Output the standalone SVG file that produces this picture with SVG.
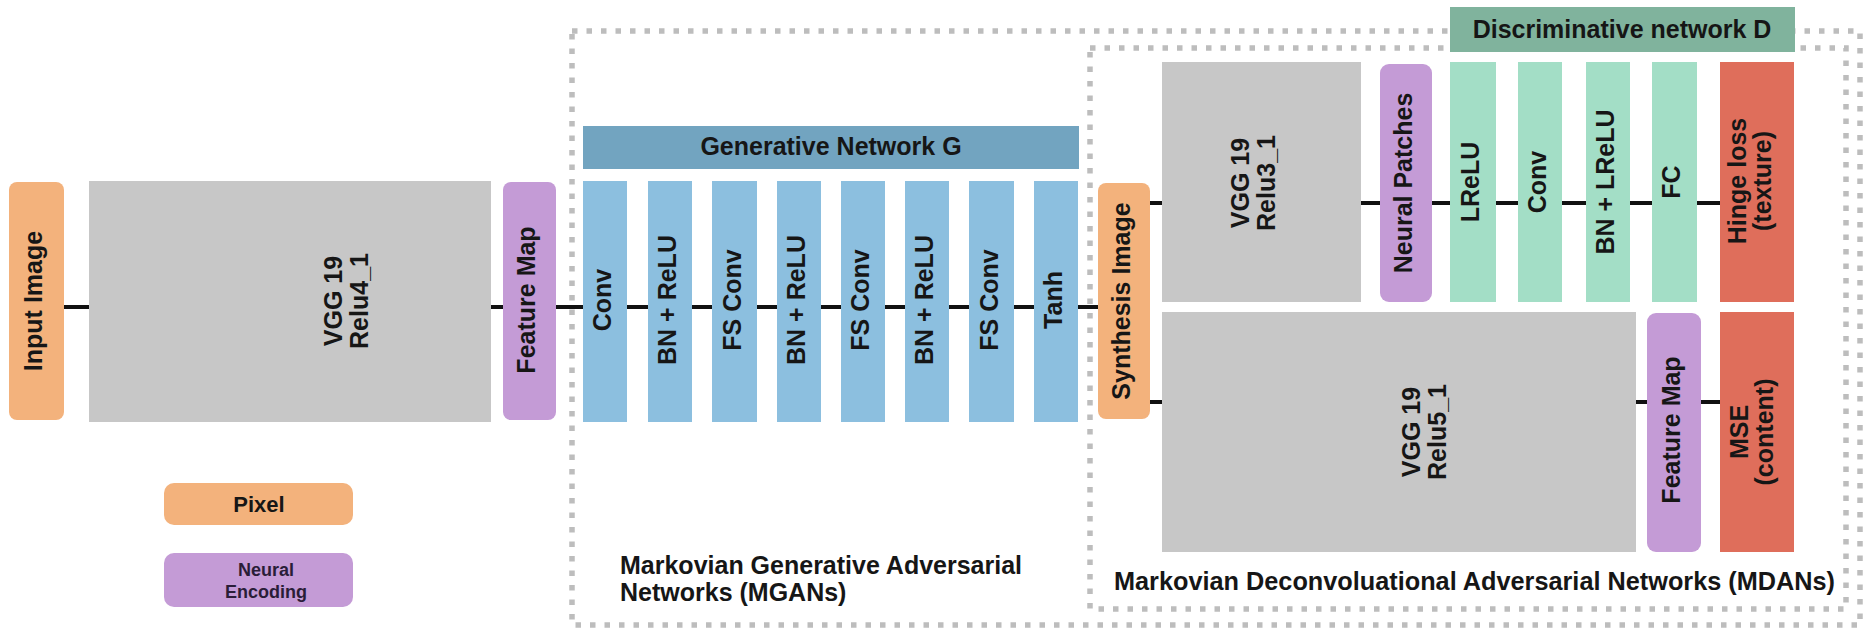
<svg xmlns="http://www.w3.org/2000/svg" width="1864" height="629" viewBox="0 0 1864 629">
<style>
text{font-family:"Liberation Sans",Arial,Helvetica,sans-serif;font-weight:bold;font-size:25px;fill:#161616;text-anchor:middle}
.pix{fill:#f3b27c}
.enc{fill:#c49bd6}
.vgg{fill:#c7c7c7}
.gen{fill:#8cbfdf}
.genh{fill:#72a4c0}
.dis{fill:#a3dec6}
.dish{fill:#80b39d}
.loss{fill:#df6e5b}
.frame{fill:none;stroke:#bdbdbd;stroke-width:5.5;stroke-dasharray:5.5 9}
.conn line{stroke:#111;stroke-width:4}
.lbl{text-anchor:start}
.leg{font-size:18px;fill:#2a1d38}
</style>
<g id="frames">
<rect id="mgans-frame" class="frame" x="572" y="31" width="1288" height="594"/>
<rect id="mdans-frame" class="frame" x="1090" y="48" width="756" height="561"/>
</g>
<g id="connectors" class="conn">
<line x1="63" y1="307" x2="89" y2="307"/>
<line x1="491" y1="307" x2="503" y2="307"/>
<line x1="556" y1="307" x2="583" y2="307"/>
<line x1="627" y1="307" x2="648" y2="307"/>
<line x1="692" y1="307" x2="712" y2="307"/>
<line x1="757" y1="307" x2="777" y2="307"/>
<line x1="821" y1="307" x2="841" y2="307"/>
<line x1="885" y1="307" x2="905" y2="307"/>
<line x1="949" y1="307" x2="969" y2="307"/>
<line x1="1014" y1="307" x2="1034" y2="307"/>
<line x1="1078" y1="307" x2="1098" y2="307"/>
<line x1="1150" y1="203" x2="1162" y2="203"/>
<line x1="1361" y1="203" x2="1380" y2="203"/>
<line x1="1432" y1="203" x2="1450" y2="203"/>
<line x1="1496" y1="203" x2="1518" y2="203"/>
<line x1="1562" y1="203" x2="1586" y2="203"/>
<line x1="1630" y1="203" x2="1652" y2="203"/>
<line x1="1697" y1="203" x2="1720" y2="203"/>
<line x1="1150" y1="402" x2="1162" y2="402"/>
<line x1="1636" y1="402" x2="1647" y2="402"/>
<line x1="1701" y1="402" x2="1720" y2="402"/>
</g>
<g id="input-image"><rect class="pix" x="9" y="182" width="55" height="238" rx="8"/><text transform="translate(42,301) rotate(-90)">Input Image</text></g>
<g id="vgg-relu4"><rect class="vgg" x="89" y="181" width="402" height="241"/><text transform="translate(342,301) rotate(-90)"><tspan x="0" y="0">VGG 19</tspan><tspan x="0" y="26">Relu4_1</tspan></text></g>
<g id="feature-map-1"><rect class="enc" x="503" y="182" width="53" height="238" rx="8"/><text transform="translate(535,300) rotate(-90)">Feature Map</text></g>
<g id="gen-title"><rect class="genh" x="583" y="126" width="496" height="43"/><text x="831" y="155">Generative Network G</text></g>
<g id="g-conv"><rect class="gen" x="583" y="181" width="44" height="241"/><text transform="translate(611,300) rotate(-90)">Conv</text></g>
<g id="g-bn1"><rect class="gen" x="648" y="181" width="44" height="241"/><text transform="translate(676,300) rotate(-90)">BN + ReLU</text></g>
<g id="g-fs1"><rect class="gen" x="712" y="181" width="45" height="241"/><text transform="translate(741,300) rotate(-90)">FS Conv</text></g>
<g id="g-bn2"><rect class="gen" x="777" y="181" width="44" height="241"/><text transform="translate(805,300) rotate(-90)">BN + ReLU</text></g>
<g id="g-fs2"><rect class="gen" x="841" y="181" width="44" height="241"/><text transform="translate(869,300) rotate(-90)">FS Conv</text></g>
<g id="g-bn3"><rect class="gen" x="905" y="181" width="44" height="241"/><text transform="translate(933,300) rotate(-90)">BN + ReLU</text></g>
<g id="g-fs3"><rect class="gen" x="969" y="181" width="45" height="241"/><text transform="translate(998,300) rotate(-90)">FS Conv</text></g>
<g id="g-tanh"><rect class="gen" x="1034" y="181" width="44" height="241"/><text transform="translate(1062,300) rotate(-90)">Tanh</text></g>
<g id="synthesis-image"><rect class="pix" x="1098" y="183" width="52" height="236" rx="8"/><text transform="translate(1130,301) rotate(-90)">Synthesis Image</text></g>
<g id="vgg-relu3"><rect class="vgg" x="1162" y="62" width="199" height="240"/><text transform="translate(1249,183) rotate(-90)"><tspan x="0" y="0">VGG 19</tspan><tspan x="0" y="26">Relu3_1</tspan></text></g>
<g id="neural-patches"><rect class="enc" x="1380" y="64" width="52" height="238" rx="9"/><text transform="translate(1412,183) rotate(-90)">Neural Patches</text></g>
<g id="dis-title"><rect class="dish" x="1450" y="7" width="345" height="45"/><text x="1622" y="38">Discriminative network D</text></g>
<g id="d-lrelu"><rect class="dis" x="1450" y="62" width="46" height="240"/><text transform="translate(1479,182) rotate(-90)">LReLU</text></g>
<g id="d-conv"><rect class="dis" x="1518" y="62" width="44" height="240"/><text transform="translate(1546,182) rotate(-90)">Conv</text></g>
<g id="d-bn"><rect class="dis" x="1586" y="62" width="44" height="240"/><text transform="translate(1614,182) rotate(-90)">BN + LReLU</text></g>
<g id="d-fc"><rect class="dis" x="1652" y="62" width="45" height="240"/><text transform="translate(1680,182) rotate(-90)">FC</text></g>
<g id="hinge-loss"><rect class="loss" x="1720" y="62" width="74" height="240"/><text transform="translate(1746,181) rotate(-90)"><tspan x="0" y="0">Hinge loss</tspan><tspan x="0" y="25">(texture)</tspan></text></g>
<g id="vgg-relu5"><rect class="vgg" x="1162" y="312" width="474" height="240"/><text transform="translate(1420,432) rotate(-90)"><tspan x="0" y="0">VGG 19</tspan><tspan x="0" y="26">Relu5_1</tspan></text></g>
<g id="feature-map-2"><rect class="enc" x="1647" y="313" width="54" height="239" rx="9"/><text transform="translate(1680,430) rotate(-90)">Feature Map</text></g>
<g id="mse"><rect class="loss" x="1720" y="312" width="74" height="240"/><text transform="translate(1748,432) rotate(-90)"><tspan x="0" y="0">MSE</tspan><tspan x="0" y="25">(content)</tspan></text></g>
<g id="mgans-label"><text class="lbl" x="620" y="574">Markovian Generative Adversarial</text><text class="lbl" x="620" y="601">Networks (MGANs)</text></g>
<g id="mdans-label"><text class="lbl" x="1114" y="590" textLength="721" lengthAdjust="spacingAndGlyphs">Markovian Deconvoluational Adversarial Networks (MDANs)</text></g>
<g id="legend-pixel"><rect class="pix" x="164" y="483" width="189" height="42" rx="10"/><text x="259" y="512" style="font-size:22px">Pixel</text></g>
<g id="legend-neural"><rect class="enc" x="164" y="553" width="189" height="54" rx="10"/><text class="leg" x="266" y="576">Neural</text><text class="leg" x="266" y="598">Encoding</text></g>
</svg>
